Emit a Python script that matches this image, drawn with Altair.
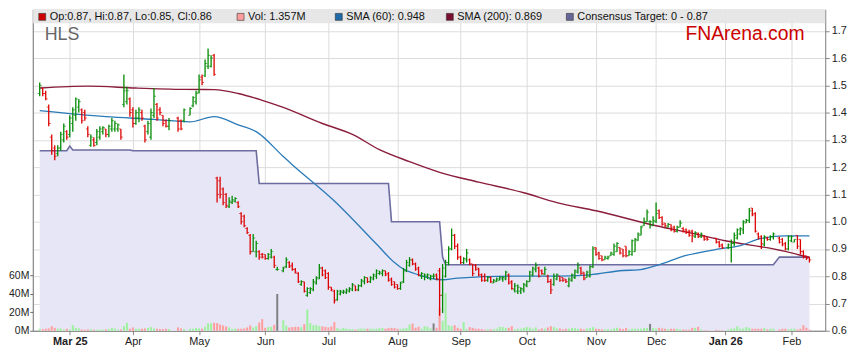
import altair as alt
import pandas as pd
import numpy as np

N = None
# ---- daily OHLC (cents), weekdays from 17 Feb 2025; None = exchange holiday ----
opens = [147,149,147,142,131,127,125,127,130,133, 132,136,139,142,141,140,134,128,130,129,
         131,133,134,132,134,134,134,134,143,144, 145,141,136,138,140,135,133,131,139,143,
         141,139,137,135,N,N,138,137,137,N, 139,142.5,144,147.5,153,153.5,157,157,161,116,
         115,112,110,105.5,107,107.5,107,103,102,97.5, 95,89,89,89,88,88,86.5,87,87,82.5,
         N,82,83.5,85,84,82.5,81,77,78,73, 74,75,77.5,79,83,82,81,76,74.5,71.5,
         73.5,74,74,74.5,75,76.5,75,76.5,78,79.5, 78,79,80,81,81,82,81,79,78,77,
         75.5,78,82,84,86,84.5,83,80,80,80, 79,80,80.5,82,73,80,85,90,95,91,
         87,85,86,86,84.5,84,83,80.5,80,78.5, 79.5,77.5,78,78.5,79,79,80.5,78,75,74.5,
         74.5,75,76.5,78,80.5,82.5,83,82,80.5,80, 78,77,79,80,79.5,79,76.5,78.5,79.5,81.5,
         83,81.5,79.5,80,83.5,90.5,88.5,87.5,86,86.5, 87.5,88,89,90.5,90,91,87.5,88,89,93,
         95,98.5,100,100,98.5,100,104,101.5,99.5,98, 99,98,96.5,98,97.5,97,96.5,96.5,94.5,95.5,
         94.5,94.5,94,N,N,94,92.5,91.5,N,90.5, 90.5,92,94,95.5,97,99.5,100.5,105,103,95.5,
         94.5,91.5,94,93.5,94.5,N,94,93.5,92,90, 93,92.5,95,93.5,89,87.5,87]
highs = [151,149,148,143,132,128,128,133,136,133.5, 139,142,145.5,145,141.5,141,135,132,131,134,
         135,135,134,135.5,138,137,136,134,154,149.5, 145.5,142,141,142,141,135.5,137,141.5,149,143.5,
         142,139,137.5,138,N,N,138.5,137.5,141.5,N, 142,146,148,154,154,159.5,163.5,161,161.5,116.5,
         116.5,112.5,110.5,109,109.5,109,107.5,103.5,102.5,98, 95.5,95.5,93,89.5,88.5,88,88.5,90,87.5,83.5,
         N,83.5,87,85.5,85,83,81.5,78.5,78,76, 76,79,80,84.5,83.5,82.5,81.5,76,75,75,
         75,75,75.5,76,77.5,76.5,77,79,80,79.5, 80,81,82.5,82,82.5,82,81.5,79.5,78,77,
         78,83,86,87,86.5,85,83.5,81.5,81,81, 80.5,81,81,83,84.5,86,91,97.5,95.5,92,
         87.5,87,90,86.5,84.5,84.5,83,81,81,80, 80,79,79.5,80,80,82,81,78.5,77.5,77,
         76,77.5,78.5,82,83.5,85,83.5,82.5,83.5,80.5, 79,81,81,80,79.5,79,79.5,81,82.5,85,
         83.5,81.5,82,84,91,90.5,89,87.5,87.5,87.5, 89,92,92.5,90.5,90,91,89.5,93.5,94,96,
         98.5,101.5,104.5,100.5,102,107,104.5,102,99.5,99.5, 99,98.5,98.5,100.5,98,97.5,97,97,96.5,96,
         96,95,94.5,N,N,94,93,92,N,92, 93.5,96,97.5,98,100.5,101,105,105,103.5,96,
         95,95,94.5,95,96,N,94.5,94,92.5,95, 95,93.5,95,93.5,89.5,87.5,87]
lows = [146,146,144.5,135,124.5,122.5,124,126,129,130, 131,133,137,140,136,137,131,127.5,127.5,128,
        130,132,131,131,133,133,133,130,142,143, 138.5,134.5,135.5,136.5,137,129,132,130,138,137,
        139,135,134.5,133.5,N,N,133,133.5,136.5,N, 139,142,143,147,150,153,156,156.5,153.5,107,
        108.5,106,105,105,106.5,107,105,99,98,95.5, 88,89,87,86,86.5,86,86,86.5,83,82,
        N,81.5,83,83,82,81,77.5,76.5,74,72.5, 73.5,74.5,77,79,80,79,75,74.5,70,71,
        73,73.5,73.5,74,74.5,74.5,74.5,76,77,77.5, 77.5,78.5,79,80.5,80,80,78,76.5,75.5,75,
        75,77.5,81.5,83.5,84,82,80,79,78.5,79, 78.5,79,78.5,65.5,66.5,79.5,84,89.5,90,86,
        84.5,84.5,85,84,80,82,80,78,78,78, 77.5,77.5,78,78.5,78,78.5,77,75,74,73.5,
        73.5,74,76,78,80,81.5,79.5,80.5,80.5,77.5, 73.5,76.5,78.5,78,78,77.5,76,78,79,81,
        80.5,78.5,79.5,79.5,83,87.5,86,85.5,86,86, 87.5,87.5,89,88,87,87,87.5,87.5,89,93,
        95,98.5,100,97.5,98.5,99.5,101,98.5,98,98, 96.5,96,96,98,96,95.5,94.5,92.5,94,94,
        94,93,93,N,N,92,90.5,90,N,90, 85,91,93.5,95,95.5,99.5,99.5,102,96,93.5,
        90,91,93,93,93.5,N,92,91,89.5,89.5, 92.5,92.5,90,88,86.5,86,85]
closes = [150,147,145,136,126,124,127,132,135,131, 138,141,145,144,137,138,132,131,128,133,
          134,134.5,132,135,137,136,135.5,131,148,148, 140,136,140,141,138,130,136,140,146,138,
          140,136,135,137,N,N,134,134,141,N, 141.5,145.5,147,152,151,158,161,160,154,110,
          110,107,106,107.5,108,108.5,105.5,100,98.5,96, 89,94,92,87,87,86.5,88,89,84,82.5,
          N,83,86,83.5,82.5,81.5,78,78,74.5,75.5, 75.5,78,79.5,83,80.5,79.5,76,75,71,74.5,
          74.5,74.5,75,75.5,77,75,76.5,78.5,79.5,78, 79.5,80.5,82,81.5,82,80.5,78.5,77,76,75.5,
          77.5,82,85,86,84.5,82.5,80.5,81,80.5,80.5, 80,80,79,73,83,85,90,95,91,87,
          85,86.5,88.5,84.5,81,82.5,80.5,78.5,78.5,79.5, 78,78.5,79,79.5,79.5,81.5,77.5,75.5,76.5,76,
          75.5,77,78,81.5,83,84,80,81,82.5,78, 75,80,80.5,78.5,78.5,78,79,80.5,82,84,
          81,79,81.5,83.5,90,88,86.5,86,87,87, 88.5,91,92,88.5,87.5,87.5,89,93,93.5,95.5,
          98,100,103.5,100,100.5,103,101.5,99,98.5,99, 97,96.5,98,99.5,96.5,96,95,95,96,94.5,
          95.5,93.5,93.5,N,N,92.5,91,90.5,N,91.5, 92,95,97,97.5,100,100.5,104,102.5,96.5,94,
          92,94.5,93.5,94.5,95.5,N,92.5,91.5,90,94.5, 94.5,93.5,91,89,87,86.5,86]
volumes = [2.2,1.8,2.2,2.5,5,3.2,2.2,2.5,1.1,2.2, 1.4,6.1,3.2,2.5,1.4,1.1,1.4,1.8,1.1,1.1,
           1.1,1.1,1.4,1.8,3.2,2.5,1.1,1.4,5,8.6, 2.2,3.6,2.2,2.2,2.2,2.5,2.9,4,2.5,2.2,
           1.8,1.8,2.2,1.8,N,N,3.6,2.5,1.8,N, 2.2,2.2,2.9,2.5,2.2,4.3,7.9,8.3,8.6,8.3,
           6.8,5.8,4.7,3.6,1.8,2.2,2.2,2.2,2.5,3.6, 5.8,3.6,5,9,12.6,3.2,4,4.3,6.5,40,
           N,11.5,5.8,3.6,4,4.3,4.3,4,7.2,23, 8.3,6.1,6.1,5,4.7,4.3,3.6,4.7,9.4,3.2,
           1.8,2.9,2.2,1.8,1.8,1.1,2.2,2.5,2.2,2.2, 2.2,2.2,2.2,2.9,2.9,2.2,2.9,3.2,2.9,2.2,
           2.2,2.5,2.9,6.8,7.9,3.2,4.3,2.2,5,4.3, 2.5,8,3.2,25,11,41,6,5,6,3.2,
           2.2,9.4,1.8,4,3.2,2.2,2.2,1.8,1.1,1.8, 1.4,1.8,2.2,4.3,4,3.2,3.2,5,1.4,2.2,
           2.2,3.2,4,3.6,2.2,3.6,1.4,2.5,2.2,3.6, 5,4,2.5,2.5,1.4,2.2,2.2,3.2,2.9,2.2,
           2.2,1.4,2.5,2.9,4,2.2,1.8,1.4,1.4,1.8, 1.4,2.5,3.2,2.5,1.8,2.9,1.4,2.2,2.2,2.2,
           2.2,2.9,3.2,7.5,2.9,2.2,3.2,2.5,2.2,1.8, 2.2,2.2,2.2,1.4,1.4,1.1,1.1,3.2,3.2,4.3,
           1.4,0.5,0.5,N,N,1.0,0.5,0.5,N,1.4, 2.2,2.5,4.7,2.2,2.5,4,3.2,2.2,2.2,2.2,
           2.2,3.2,1.4,2.2,2.2,N,1.4,2.2,2.2,1.4, 2.2,2.2,1.4,2.2,6,3.2,1.357]

# ---- moving averages and consensus target, read at bar positions ----
sma60_idx = [0,22,38,50,58,66,72,81,84,98,112,118,120,126,134,139,157,172,183,194,199,205,215,226,233,239,248,256]
sma60_val = [1.407,1.385,1.375,1.366,1.385,1.355,1.33,1.239,1.209,1.076,0.918,0.85,0.833,0.805,0.787,0.793,0.80,0.80,0.805,0.821,0.823,0.839,0.876,0.90,0.912,0.936,0.948,0.948]
sma200_idx = [0,16,32,48,58,66,74,81,94,104,113,123,133,146,161,172,185,205,218,228,244,256]
sma200_val = [1.49,1.497,1.49,1.485,1.484,1.47,1.445,1.419,1.36,1.32,1.264,1.22,1.181,1.145,1.106,1.07,1.04,0.985,0.955,0.93,0.90,0.869]
target_idx = [0,9,10,11,30,31,72,73,116,117,133,134,135,244,246,256]
target_val = [1.26,1.26,1.277,1.263,1.263,1.26,1.26,1.14,1.14,1.0,1.0,0.87,0.842,0.842,0.87,0.87]

month_labels = ["Mar 25","Apr","May","Jun","Jul","Aug","Sep","Oct","Nov","Dec","Jan 26","Feb"]

# ---- tables ----
dates = pd.bdate_range("2025-02-17", periods=len(closes))
df = pd.DataFrame({"i": range(len(closes)), "date": dates.strftime("%Y-%m-%d"),
                   "o": opens, "h": highs, "l": lows, "c": closes, "v": volumes})
df = df.dropna(subset=["c"]).copy()
for col in ["o", "h", "l", "c"]:
    df[col] = df[col].astype(float) / 100.0
df["dir"] = np.where(df["c"] >= df["o"], "up", "down")
df["vdir"] = np.where(df["c"] > df["o"], "vup", np.where(df["c"] < df["o"], "vdown", "vflat"))

month_idx = [i for i in range(1, len(dates)) if dates[i].month != dates[i - 1].month]

sma60 = pd.DataFrame({"i": sma60_idx, "p": sma60_val})
sma200 = pd.DataFrame({"i": sma200_idx, "p": sma200_val})
target = pd.DataFrame({"i": target_idx, "p": target_val})

# ---- scales / axes ----
W, H = 799, 324
FONT = "Liberation Sans"
xscale = alt.Scale(domain=[-0.65, 259.6], nice=False, zero=False)
pscale = alt.Scale(domain=[0.6, 1.7782], nice=False, zero=False)
vscale = alt.Scale(domain=[0, 349.5], nice=False, zero=False)

label_expr = " : ".join(f"datum.value == {v} ? '{t}'" for v, t in zip(month_idx, month_labels)) + " : ''"
bold_test = f"datum.value == {month_idx[0]} || datum.value == {month_idx[10]}"
xaxis = alt.Axis(values=month_idx, labelExpr=label_expr, title=None, grid=True,
                 gridColor="#dcdcdc", tickSize=4, tickColor="#888", domainColor="#777",
                 labelFontSize=11, labelColor="#222", labelPadding=1, labelFont=FONT,
                 labelFontWeight={"condition": {"test": bold_test, "value": "bold"}, "value": "normal"})
X = alt.X("i:Q", scale=xscale, axis=xaxis)

paxis = alt.Axis(orient="right", values=[0.6, 0.7, 0.8, 0.9, 1.0, 1.1, 1.2, 1.3, 1.4, 1.5, 1.6, 1.7],
                 format=".1f", title=None, grid=True, gridColor="#dcdcdc", tickSize=4,
                 tickColor="#888", domainColor="#888", labelFontSize=11, labelColor="#222",
                 labelPadding=2, labelFont=FONT)
vaxis = alt.Axis(orient="left", values=[0, 20, 40, 60], labelExpr="datum.value + 'M'", title=None,
                 grid=False, tickSize=3, tickColor="#666", domainColor="#777", labelFontSize=10.5,
                 labelColor="#222", labelPadding=1, labelFont=FONT)

# one colour scale for everything: price bars and volume bars
col = alt.Color("dir:N", scale=alt.Scale(domain=["up", "down", "vup", "vdown", "vflat"],
                                         range=["#008a00", "#dd0000", "#9cf29c", "#ff9c9c", "#808080"]),
                legend=None)
vcol = alt.Color("vdir:N", scale=alt.Scale(domain=["up", "down", "vup", "vdown", "vflat"],
                                           range=["#008a00", "#dd0000", "#9cf29c", "#ff9c9c", "#808080"]),
                 legend=None)

# ---- layer 1: consensus target area ----
t_area = alt.Chart(target).mark_area(color="#e6e6f6", opacity=1).encode(
    x=X, y=alt.Y("p:Q", scale=pscale, axis=paxis), y2=alt.datum(0.6))
t_line = alt.Chart(target).mark_line(color="#6c6ca0", strokeWidth=1.6).encode(
    x=X, y=alt.Y("p:Q", scale=pscale, axis=paxis))
layer_target = alt.layer(t_area, t_line)

# ---- layer 2: volume ----
vol = alt.Chart(df).mark_bar(size=2).encode(
    x=X, y=alt.Y("v:Q", scale=vscale, axis=vaxis), color=vcol)

# ---- layer 3: SMAs and OHLC bars ----
Yp = lambda f: alt.Y(f, scale=pscale, axis=None)
l200 = alt.Chart(sma200).mark_line(color="#8a1c3c", strokeWidth=1.4, interpolate="monotone").encode(x=X, y=Yp("p:Q"))
l60 = alt.Chart(sma60).mark_line(color="#2a7ab8", strokeWidth=1.3, interpolate="monotone").encode(x=X, y=Yp("p:Q"))
rng = alt.Chart(df).mark_rule(strokeWidth=1.3).encode(x=X, y=Yp("l:Q"), y2="h:Q", color=col)
otick = alt.Chart(df).mark_tick(orient="horizontal", size=2, thickness=1, xOffset=-1).encode(x=X, y=Yp("o:Q"), color=col)
ctick = alt.Chart(df).mark_tick(orient="horizontal", size=2, thickness=1, xOffset=1).encode(x=X, y=Yp("c:Q"), color=col)
layer_price = alt.layer(l200, l60, rng, otick, ctick)

# ---- layer 4: header band, legend, labels ----
one = pd.DataFrame({"a": [0]})
band = alt.Chart(one).mark_rect(fill="#e4e4e4", opacity=0.9).encode(
    x=alt.value(0), x2=alt.value(W), y=alt.value(0), y2=alt.value(14))
legend_items = [("Op:0.87, Hi:0.87, Lo:0.85, Cl:0.86", "#cc0000", 6),
                ("Vol: 1.357M", "#ff9c9c", 206),
                ("SMA (60): 0.948", "#1f6aa8", 305),
                ("SMA (200): 0.869", "#7a1030", 417),
                ("Consensus Target: 0 - 0.87", "#66669a", 538)]
ann = [band]
for text, color, px in legend_items:
    ann.append(alt.Chart(one).mark_rect(fill=color, stroke="#333", strokeWidth=0.6).encode(
        x=alt.value(px), x2=alt.value(px + 7), y=alt.value(4), y2=alt.value(11)))
    ann.append(alt.Chart(one).mark_text(text=text, align="left", baseline="middle", fontSize=11,
                                        font=FONT, color="#111").encode(x=alt.value(px + 11), y=alt.value(7.5)))
ann.append(alt.Chart(one).mark_text(text="HLS", align="left", baseline="alphabetic", fontSize=18,
                                    font=FONT, color="#666").encode(x=alt.value(12), y=alt.value(31)))
ann.append(alt.Chart(one).mark_text(text="FNArena.com", align="left", baseline="alphabetic", fontSize=19.5,
                                    font=FONT, color="#cc0000").encode(x=alt.value(658), y=alt.value(31)))
layer_ann = alt.layer(*ann)

chart = alt.layer(layer_target, vol, layer_price, layer_ann).resolve_scale(y="independent").properties(
    width=W, height=H, autosize="none",
    padding={"left": 25, "top": 0, "right": 26, "bottom": 24},
).configure_view(stroke="#999", strokeWidth=1).configure(background="white")

chart.save("out.html", embed_options={"renderer": "svg", "actions": False})
